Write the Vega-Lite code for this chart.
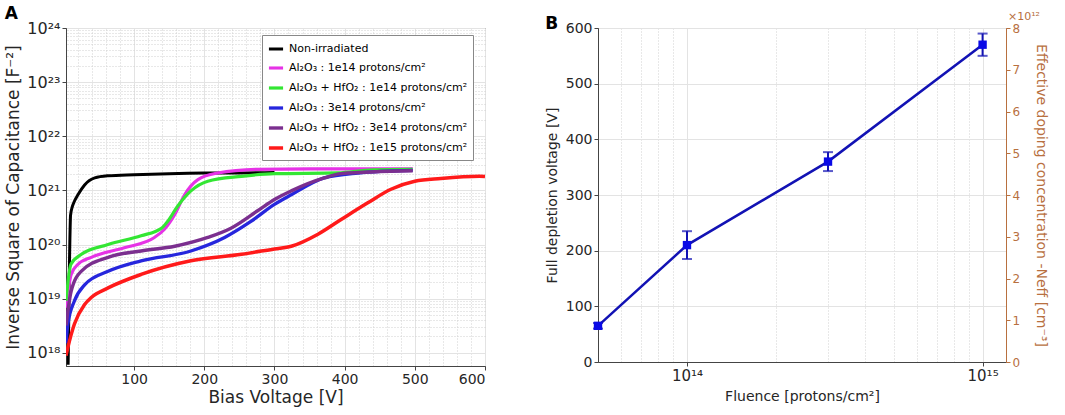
{
  "$schema": "https://vega.github.io/schema/vega-lite/v6.json",
  "background": "white",
  "padding": {"left": 4, "top": 4, "right": 4, "bottom": 1},
  "spacing": 55,
  "config": {
    "font": "DejaVu Sans",
    "view": {"stroke": "#444444", "strokeWidth": 1},
    "axis": {
      "gridColor": "#e3e3e3",
      "domainColor": "#444444",
      "tickColor": "#444444",
      "labelColor": "#262626",
      "titleColor": "#262626",
      "titleFontWeight": "normal"
    },
    "title": {"fontSize": 17, "fontWeight": "bold", "anchor": "start", "frame": "bounds"}
  },
  "datasets": {
    "cv": [
      {"series": "Non-irradiated", "V": 6, "C": 6.0e17},
      {"series": "Non-irradiated", "V": 8, "C": 5.0e19},
      {"series": "Non-irradiated", "V": 9.5, "C": 3.5e20},
      {"series": "Non-irradiated", "V": 12, "C": 5.0e20},
      {"series": "Non-irradiated", "V": 15, "C": 6.3e20},
      {"series": "Non-irradiated", "V": 20, "C": 8.3e20},
      {"series": "Non-irradiated", "V": 29.5, "C": 1.26e21},
      {"series": "Non-irradiated", "V": 44, "C": 1.7e21},
      {"series": "Non-irradiated", "V": 63, "C": 1.86e21},
      {"series": "Non-irradiated", "V": 100, "C": 1.95e21},
      {"series": "Non-irradiated", "V": 150, "C": 2.04e21},
      {"series": "Non-irradiated", "V": 200, "C": 2.09e21},
      {"series": "Non-irradiated", "V": 250, "C": 2.1e21},
      {"series": "Non-irradiated", "V": 300, "C": 2.14e21},

      {"series": "Al₂O₃ : 1e14 protons/cm²", "V": 3, "C": 6.8e18},
      {"series": "Al₂O₃ : 1e14 protons/cm²", "V": 10.4, "C": 2.8e19},
      {"series": "Al₂O₃ : 1e14 protons/cm²", "V": 20, "C": 4.3e19},
      {"series": "Al₂O₃ : 1e14 protons/cm²", "V": 39, "C": 5.8e19},
      {"series": "Al₂O₃ : 1e14 protons/cm²", "V": 86, "C": 8.7e19},
      {"series": "Al₂O₃ : 1e14 protons/cm²", "V": 129, "C": 1.35e20},
      {"series": "Al₂O₃ : 1e14 protons/cm²", "V": 143, "C": 1.9e20},
      {"series": "Al₂O₃ : 1e14 protons/cm²", "V": 158, "C": 3.6e20},
      {"series": "Al₂O₃ : 1e14 protons/cm²", "V": 172, "C": 8.3e20},
      {"series": "Al₂O₃ : 1e14 protons/cm²", "V": 191, "C": 1.58e21},
      {"series": "Al₂O₃ : 1e14 protons/cm²", "V": 219, "C": 2.09e21},
      {"series": "Al₂O₃ : 1e14 protons/cm²", "V": 276, "C": 2.45e21},
      {"series": "Al₂O₃ : 1e14 protons/cm²", "V": 350, "C": 2.5e21},
      {"series": "Al₂O₃ : 1e14 protons/cm²", "V": 420, "C": 2.5e21},
      {"series": "Al₂O₃ : 1e14 protons/cm²", "V": 497, "C": 2.52e21},

      {"series": "Al₂O₃ + HfO₂ : 1e14 protons/cm²", "V": 3, "C": 9.1e18},
      {"series": "Al₂O₃ + HfO₂ : 1e14 protons/cm²", "V": 10, "C": 4.3e19},
      {"series": "Al₂O₃ + HfO₂ : 1e14 protons/cm²", "V": 25, "C": 6.6e19},
      {"series": "Al₂O₃ + HfO₂ : 1e14 protons/cm²", "V": 63, "C": 1.0e20},
      {"series": "Al₂O₃ + HfO₂ : 1e14 protons/cm²", "V": 110, "C": 1.45e20},
      {"series": "Al₂O₃ + HfO₂ : 1e14 protons/cm²", "V": 139, "C": 2.0e20},
      {"series": "Al₂O₃ + HfO₂ : 1e14 protons/cm²", "V": 148, "C": 2.7e20},
      {"series": "Al₂O₃ + HfO₂ : 1e14 protons/cm²", "V": 162, "C": 5.1e20},
      {"series": "Al₂O₃ + HfO₂ : 1e14 protons/cm²", "V": 181, "C": 9.8e20},
      {"series": "Al₂O₃ + HfO₂ : 1e14 protons/cm²", "V": 205, "C": 1.48e21},
      {"series": "Al₂O₃ + HfO₂ : 1e14 protons/cm²", "V": 253, "C": 1.82e21},
      {"series": "Al₂O₃ + HfO₂ : 1e14 protons/cm²", "V": 300, "C": 2.04e21},
      {"series": "Al₂O₃ + HfO₂ : 1e14 protons/cm²", "V": 390, "C": 2.1e21},
      {"series": "Al₂O₃ + HfO₂ : 1e14 protons/cm²", "V": 440, "C": 2.4e21},
      {"series": "Al₂O₃ + HfO₂ : 1e14 protons/cm²", "V": 497, "C": 2.45e21},

      {"series": "Al₂O₃ : 3e14 protons/cm²", "V": 3, "C": 1.5e18},
      {"series": "Al₂O₃ : 3e14 protons/cm²", "V": 5.7, "C": 3.4e18},
      {"series": "Al₂O₃ : 3e14 protons/cm²", "V": 15, "C": 9.1e18},
      {"series": "Al₂O₃ : 3e14 protons/cm²", "V": 29.5, "C": 1.8e19},
      {"series": "Al₂O₃ : 3e14 protons/cm²", "V": 63, "C": 3.2e19},
      {"series": "Al₂O₃ : 3e14 protons/cm²", "V": 110, "C": 5.0e19},
      {"series": "Al₂O₃ : 3e14 protons/cm²", "V": 181, "C": 7.6e19},
      {"series": "Al₂O₃ : 3e14 protons/cm²", "V": 229, "C": 1.35e20},
      {"series": "Al₂O₃ : 3e14 protons/cm²", "V": 267, "C": 2.7e20},
      {"series": "Al₂O₃ : 3e14 protons/cm²", "V": 300, "C": 5.5e20},
      {"series": "Al₂O₃ : 3e14 protons/cm²", "V": 324, "C": 8.3e20},
      {"series": "Al₂O₃ : 3e14 protons/cm²", "V": 371, "C": 1.7e21},
      {"series": "Al₂O₃ : 3e14 protons/cm²", "V": 419, "C": 2.09e21},
      {"series": "Al₂O₃ : 3e14 protons/cm²", "V": 497, "C": 2.34e21},

      {"series": "Al₂O₃ + HfO₂ : 3e14 protons/cm²", "V": 3, "C": 3.2e18},
      {"series": "Al₂O₃ + HfO₂ : 3e14 protons/cm²", "V": 10.4, "C": 1.38e19},
      {"series": "Al₂O₃ + HfO₂ : 3e14 protons/cm²", "V": 24.6, "C": 3.2e19},
      {"series": "Al₂O₃ + HfO₂ : 3e14 protons/cm²", "V": 63, "C": 5.8e19},
      {"series": "Al₂O₃ + HfO₂ : 3e14 protons/cm²", "V": 110, "C": 7.6e19},
      {"series": "Al₂O₃ + HfO₂ : 3e14 protons/cm²", "V": 158, "C": 9.3e19},
      {"series": "Al₂O₃ + HfO₂ : 3e14 protons/cm²", "V": 205, "C": 1.35e20},
      {"series": "Al₂O₃ + HfO₂ : 3e14 protons/cm²", "V": 238, "C": 2.0e20},
      {"series": "Al₂O₃ + HfO₂ : 3e14 protons/cm²", "V": 276, "C": 4.2e20},
      {"series": "Al₂O₃ + HfO₂ : 3e14 protons/cm²", "V": 300, "C": 6.8e20},
      {"series": "Al₂O₃ + HfO₂ : 3e14 protons/cm²", "V": 324, "C": 9.8e20},
      {"series": "Al₂O₃ + HfO₂ : 3e14 protons/cm²", "V": 371, "C": 1.7e21},
      {"series": "Al₂O₃ + HfO₂ : 3e14 protons/cm²", "V": 395, "C": 2.04e21},
      {"series": "Al₂O₃ + HfO₂ : 3e14 protons/cm²", "V": 497, "C": 2.3e21},

      {"series": "Al₂O₃ + HfO₂ : 1e15 protons/cm²", "V": 3, "C": 8.9e17},
      {"series": "Al₂O₃ + HfO₂ : 1e15 protons/cm²", "V": 5.7, "C": 1.26e18},
      {"series": "Al₂O₃ + HfO₂ : 1e15 protons/cm²", "V": 15, "C": 3.4e18},
      {"series": "Al₂O₃ + HfO₂ : 1e15 protons/cm²", "V": 29.5, "C": 7.8e18},
      {"series": "Al₂O₃ + HfO₂ : 1e15 protons/cm²", "V": 39, "C": 1.05e19},
      {"series": "Al₂O₃ + HfO₂ : 1e15 protons/cm²", "V": 63, "C": 1.58e19},
      {"series": "Al₂O₃ + HfO₂ : 1e15 protons/cm²", "V": 110, "C": 2.8e19},
      {"series": "Al₂O₃ + HfO₂ : 1e15 protons/cm²", "V": 181, "C": 5.0e19},
      {"series": "Al₂O₃ + HfO₂ : 1e15 protons/cm²", "V": 253, "C": 6.6e19},
      {"series": "Al₂O₃ + HfO₂ : 1e15 protons/cm²", "V": 300, "C": 8.3e19},
      {"series": "Al₂O₃ + HfO₂ : 1e15 protons/cm²", "V": 324, "C": 9.3e19},
      {"series": "Al₂O₃ + HfO₂ : 1e15 protons/cm²", "V": 362, "C": 1.55e20},
      {"series": "Al₂O₃ + HfO₂ : 1e15 protons/cm²", "V": 395, "C": 2.9e20},
      {"series": "Al₂O₃ + HfO₂ : 1e15 protons/cm²", "V": 433, "C": 5.9e20},
      {"series": "Al₂O₃ + HfO₂ : 1e15 protons/cm²", "V": 466, "C": 1.05e21},
      {"series": "Al₂O₃ + HfO₂ : 1e15 protons/cm²", "V": 500, "C": 1.48e21},
      {"series": "Al₂O₃ + HfO₂ : 1e15 protons/cm²", "V": 537, "C": 1.66e21},
      {"series": "Al₂O₃ + HfO₂ : 1e15 protons/cm²", "V": 592, "C": 1.82e21},
      {"series": "Al₂O₃ + HfO₂ : 1e15 protons/cm²", "V": 600, "C": 1.8e21}
    ],
    "fd": [
      {"fluence": 5e13, "vfd": 65, "lo": 60, "hi": 70},
      {"fluence": 1e14, "vfd": 210, "lo": 185, "hi": 235},
      {"fluence": 3e14, "vfd": 360, "lo": 343, "hi": 377},
      {"fluence": 1e15, "vfd": 570, "lo": 550, "hi": 590}
    ],
    "neff": [
      {"fluence": 1.2e15, "neff": 8, "label": "×10¹²"}
    ]
  },
  "hconcat": [
    {
      "title": {"text": "A", "offset": -3},
      "width": 419,
      "height": 338,
      "layer": [
        {
          "data": {"name": "cv"},
          "mark": {"type": "line", "interpolate": "monotone", "clip": true},
          "encoding": {
            "x": {
              "field": "V", "type": "quantitative",
              "scale": {"domain": [3, 600], "nice": false, "zero": false},
              "axis": {
                "title": "Bias Voltage [V]", "titleFontSize": 17, "titlePadding": 3,
                "values": [100, 200, 300, 400, 500, 600], "labelFontSize": 14,
                "ticks": true, "tickSize": 4, "grid": true
              }
            },
            "y": {
              "field": "C", "type": "quantitative",
              "scale": {"type": "log", "domain": [5.7e17, 1e24], "nice": false},
              "axis": {
                "title": "Inverse Square of Capacitance [F⁻²]", "titleFontSize": 17, "titlePadding": 4,
                "values": [1e18, 1e19, 1e20, 1e21, 1e22, 1e23, 1e24],
                "labelExpr": "'10' + (datum.value >= 0.99e24 ? '²⁴' : datum.value >= 0.99e23 ? '²³' : datum.value >= 0.99e22 ? '²²' : datum.value >= 0.99e21 ? '²¹' : datum.value >= 0.99e20 ? '²⁰' : datum.value >= 0.99e19 ? '¹⁹' : '¹⁸')",
                "labelFontSize": 16, "tickSize": 4, "grid": true
              }
            },
            "color": {
              "field": "series", "type": "nominal",
              "scale": {
                "domain": ["Non-irradiated", "Al₂O₃ : 1e14 protons/cm²", "Al₂O₃ + HfO₂ : 1e14 protons/cm²", "Al₂O₃ : 3e14 protons/cm²", "Al₂O₃ + HfO₂ : 3e14 protons/cm²", "Al₂O₃ + HfO₂ : 1e15 protons/cm²"],
                "range": ["#000000", "#e633e6", "#33e633", "#2626dd", "#7b2f8f", "#ff1a1a"]
              },
              "legend": {
                "title": null, "orient": "none", "legendX": 196, "legendY": 7,
                "fillColor": "white", "strokeColor": "#888888", "padding": 5,
                "symbolType": "stroke", "symbolSize": 200, "symbolStrokeWidth": 1.5,
                "labelFontSize": 11, "labelColor": "#000000", "rowPadding": 4, "labelLimit": 300
              }
            },
            "strokeWidth": {
              "field": "series", "type": "nominal",
              "scale": {
                "domain": ["Non-irradiated", "Al₂O₃ : 1e14 protons/cm²", "Al₂O₃ + HfO₂ : 1e14 protons/cm²", "Al₂O₃ : 3e14 protons/cm²", "Al₂O₃ + HfO₂ : 3e14 protons/cm²", "Al₂O₃ + HfO₂ : 1e15 protons/cm²"],
                "range": [3, 3.5, 4, 3, 4.5, 6.5]
              },
              "legend": null
            },
            "order": {"field": "V", "type": "quantitative"}
          }
        },
        {
          "data": {"name": "cv"},
          "mark": {"type": "point", "opacity": 0},
          "encoding": {
            "x": {
              "field": "V", "type": "quantitative",
              "axis": {
                "orient": "top", "title": null, "labels": false, "ticks": false, "domain": false,
                "values": [20, 40, 60, 80, 120, 140, 160, 180, 220, 240, 260, 280, 320, 340, 360, 380, 420, 440, 460, 480, 520, 540, 560, 580],
                "grid": true, "gridDash": [1, 2], "gridColor": "#d0d0d0"
              }
            },
            "y": {
              "field": "C", "type": "quantitative",
              "axis": {
                "orient": "right", "title": null, "labels": false, "ticks": false, "domain": false,
                "values": [2e18, 3e18, 4e18, 5e18, 6e18, 7e18, 8e18, 9e18, 2e19, 3e19, 4e19, 5e19, 6e19, 7e19, 8e19, 9e19, 2e20, 3e20, 4e20, 5e20, 6e20, 7e20, 8e20, 9e20, 2e21, 3e21, 4e21, 5e21, 6e21, 7e21, 8e21, 9e21, 2e22, 3e22, 4e22, 5e22, 6e22, 7e22, 8e22, 9e22, 2e23, 3e23, 4e23, 5e23, 6e23, 7e23, 8e23, 9e23],
                "grid": true, "gridDash": [1, 2], "gridColor": "#d0d0d0"
              }
            }
          }
        }
      ],
      "resolve": {"axis": {"x": "independent", "y": "independent"}}
    },
    {
      "title": {"text": "B", "offset": -22},
      "width": 408,
      "height": 334,
      "layer": [
        {
          "data": {"name": "fd"},
          "encoding": {
            "x": {
              "field": "fluence", "type": "quantitative",
              "scale": {"type": "log", "domain": [5e13, 1.2e15], "nice": false},
              "axis": {
                "title": "Fluence [protons/cm²]", "titleFontSize": 14, "titlePadding": 6,
                "values": [1e14, 1e15],
                "labelExpr": "datum.value < 5e14 ? '10¹⁴' : '10¹⁵'",
                "labelFontSize": 15, "tickSize": 4, "grid": true
              }
            }
          },
          "layer": [
            {
              "mark": {"type": "line", "color": "#1212b4", "strokeWidth": 2.5},
              "encoding": {
                "y": {
                  "field": "vfd", "type": "quantitative",
                  "title": "Full depletion voltage [V]",
                  "scale": {"domain": [0, 600], "nice": false},
                  "axis": {
                    "title": "Full depletion voltage [V]", "titleFontSize": 14, "titlePadding": 6,
                    "values": [0, 100, 200, 300, 400, 500, 600], "labelFontSize": 14, "tickSize": 4, "grid": true
                  }
                }
              }
            },
            {
              "mark": {"type": "errorbar", "ticks": {"size": 10, "thickness": 2}, "rule": {"strokeWidth": 2}, "color": "#1212b4"},
              "encoding": {
                "y": {"field": "lo", "type": "quantitative", "title": "Full depletion voltage [V]"},
                "y2": {"field": "hi"}
              }
            },
            {
              "mark": {"type": "point", "shape": "square", "filled": true, "size": 70, "color": "#0a0ae6", "opacity": 1},
              "encoding": {
                "y": {"field": "vfd", "type": "quantitative", "title": "Full depletion voltage [V]"}
              }
            }
          ]
        },
        {
          "data": {"name": "neff"},
          "mark": {"type": "text", "align": "left", "baseline": "bottom", "dx": 2, "dy": -6, "fontSize": 11, "color": "#b8703f"},
          "encoding": {
            "x": {
              "field": "fluence", "type": "quantitative",
              "axis": {
                "orient": "top", "title": null, "labels": false, "ticks": false, "domain": false,
                "values": [6e13, 7e13, 8e13, 9e13, 2e14, 3e14, 4e14, 5e14, 6e14, 7e14, 8e14, 9e14],
                "grid": true, "gridDash": [1, 2], "gridColor": "#d0d0d0"
              }
            },
            "y": {
              "field": "neff", "type": "quantitative",
              "scale": {"domain": [0, 8], "nice": false},
              "axis": {
                "orient": "right",
                "title": "Effective doping concentration -Neff [cm⁻³]", "titleFontSize": 14, "titlePadding": 14,
                "values": [0, 1, 2, 3, 4, 5, 6, 7, 8], "labelFontSize": 12, "tickSize": 4,
                "grid": false,
                "domainColor": "#b8703f", "tickColor": "#b8703f", "labelColor": "#b8703f", "titleColor": "#b8703f"
              }
            },
            "text": {"field": "label"}
          }
        }
      ],
      "resolve": {"scale": {"y": "independent"}, "axis": {"x": "independent", "y": "independent"}}
    }
  ]
}
